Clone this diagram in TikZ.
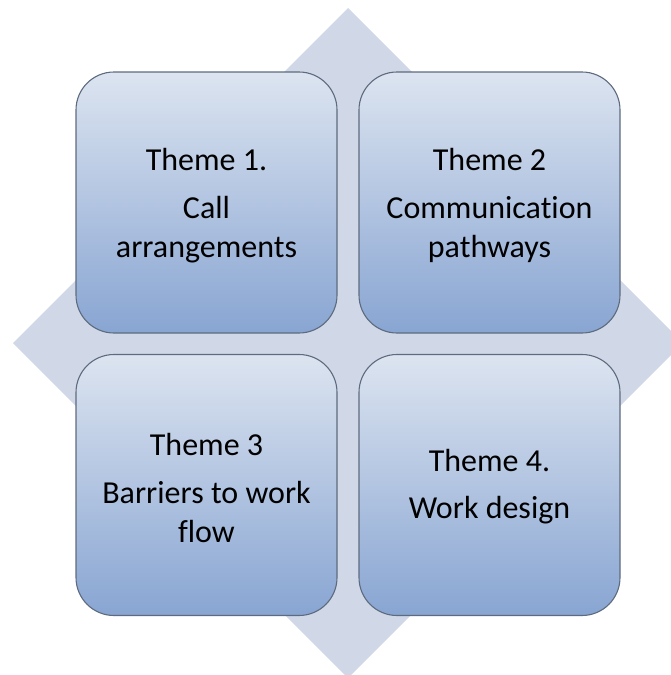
\documentclass[tikz,border=0pt]{standalone}
\usepackage{fontspec}
\setmainfont{Carlito}[Ligatures={NoCommon}]
\definecolor{diam}{HTML}{D0D8E8}
\definecolor{boxtop}{HTML}{DCE4F0}
\definecolor{boxbot}{HTML}{88A5D2}
\definecolor{boxline}{HTML}{5E6B7E}
\begin{document}
\begin{tikzpicture}[x=1pt,y=-1pt,
  theme/.style={draw=boxline, line width=1.1pt, rounded corners=38pt,
    top color=boxtop, bottom color=boxbot, minimum width=261pt, minimum height=261pt,
    inner sep=0pt},
  label/.style={align=center, text=black, inner sep=0pt, font=\fontsize{32}{39}\selectfont}]
\useasboundingbox (0,0) rectangle (670,675);
\fill[diam] (348,8) coordinate (dt) -- (683,343) coordinate (dr) -- (348,678) coordinate (db) -- (13,343) coordinate (dl) -- cycle;
\node[theme] (t1) at (206.5,202.5) {};
\node[theme] (t2) at (489.5,202.5) {};
\node[theme] (t3) at (206.5,485) {};
\node[theme] (t4) at (489.5,485) {};
\node[label] (l1) at ([yshift=-3pt]t1.center) {Theme 1.\\[9pt]Call\\arrangements};
\node[label] (l2) at ([yshift=-3pt]t2.center) {Theme 2\\[9pt]Communication\\pathways};
\node[label] (l3) at ([yshift=-3pt]t3.center) {Theme 3\\[9pt]Barriers to work\\flow};
\node[label] (l4) at ([yshift=-2pt]t4.center) {Theme 4.\\[8pt]Work design};
\end{tikzpicture}
\end{document}
